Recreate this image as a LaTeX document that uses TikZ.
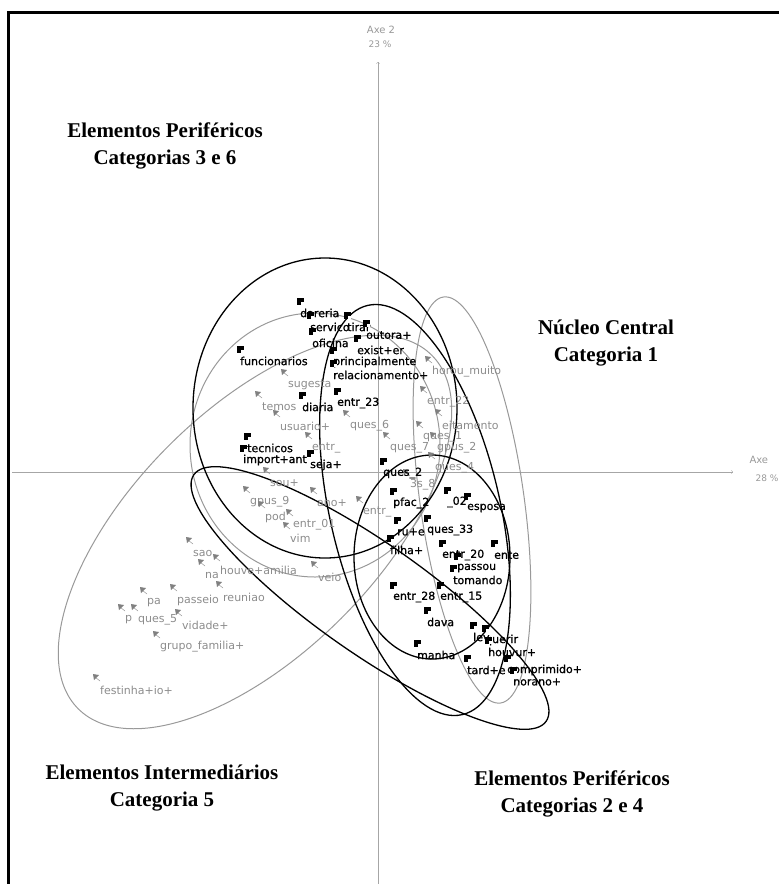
\documentclass[tikz,border=0pt]{standalone}
\usepackage{fontspec}
\setmainfont{Liberation Serif}
\newfontfamily\labfont{DejaVu Sans}
\newfontfamily\labbfont[FakeBold=1]{DejaVu Sans}
\usetikzlibrary{arrows}

\begin{document}
\begin{tikzpicture}[x=1pt,y=-1pt,
  blab/.style={anchor=west,inner sep=0,font=\labbfont\fontsize{11}{11}\selectfont,text=black},
  glab/.style={blab,font=\labfont\fontsize{11}{11}\selectfont,text=black!45},
  ttl/.style={align=center,inner sep=0,font=\bfseries\fontsize{21}{27}\selectfont}]
\useasboundingbox (0,0) rectangle (779,884);
\draw[line width=3] (8,884) -- (8,12) -- (779,12);
% axes
\draw[black!35, ->, >=to] (12,472)--(733,472);
\draw[black!35, ->, >=to] (378,884)--(378,62);
\node[black!40, font=\labfont\fontsize{10}{10}\selectfont] (ax2) at (381,30) {Axe 2};
\node[black!40, font=\labfont\fontsize{9}{9}\selectfont] (ax2p) at (380,44) {23 \%};
\node[black!40, font=\labfont\fontsize{10}{10}\selectfont, anchor=west] (ax1) at (746,460) {Axe};
\node[black!40, font=\labfont\fontsize{9}{9}\selectfont, anchor=west] (ax1p) at (752,478) {28 \%};
% ellipses
\draw[black!40, line width=1] [rotate around={45:(255,532)}] (255,532) ellipse [x radius=250, y radius=122];
\draw[black!40, line width=1] [rotate around={8:(472,500)}] (472,500) ellipse [x radius=52, y radius=205];
\draw[black!40, line width=1] (315,445) ellipse [x radius=125, y radius=132];
\draw[line width=1.3] (325,408) ellipse [x radius=132, y radius=150];
\draw[line width=1.3] [rotate around={13:(415,510)}] (415,510) ellipse [x radius=85, y radius=210];
\draw[line width=1.3] (432,557) ellipse [x radius=78, y radius=102];
\draw[line width=1.3] [rotate around={-35:(370,598)}] (370,598) ellipse [x radius=215, y radius=55];
% gray points
\foreach \x/\y/\t [count=\i] in {432/372/horou\_muito, 288/385/sugesta, 262/407/temos,
  427/402/entr\_22, 280/426/usuario+, 350/426/ques\_6, 442/425/eitamento, 423/437/ques\_1,
  312/448/entr\_, 390/448/ques\_7, 437/448/gpus\_2, 435/468/ques\_4, 410/485/3s\_8,
  270/483/sou+, 250/502/gpus\_9, 317/503/ano+, 363/512/entr\_, 265/517/pod,
  293/525/entr\_01, 290/538/vim, 193/553/sao, 220/570/houve+amilia, 205/575/na,
  318/577/veio, 223/597/reuniao, 177/600/passeio, 147/603/pa, 125/620/p,
  138/620/ques\_5, 182/625/vidade+, 160/647/grupo\_familia+, 100/690/festinha+io+} {
  \node[glab] (g\i) at (\x,\y) {\t};
  \fill[black!50] (\x-7,\y-16) -- ++(6,1) -- ++(-5,5) -- cycle;
  \draw[black!50] (\x-5,\y-13) -- ++(5,4);
}
% black points
\foreach \x/\y/\t [count=\i] in {300/313/dareria, 310/327/servico, 347/327/tirar,
  366/335/outora+, 312/343/oficina, 357/350/exist+er, 240/361/funcionarios,
  333/362/principalmente, 333/375/relacionamento+, 302/407/diaria, 337/403/entr\_23,
  247/448/tecnicos, 243/460/import+ant, 310/465/seja+, 383/473/ques\_2,
  393/503/pfac\_2, 447/502/\_02, 467/508/esposa, 427/530/ques\_33, 397/532/ru+e,
  390/550/filha+, 442/555/entr\_20, 494/555/ente, 457/568/passou, 453/580/tomando,
  393/597/entr\_28, 440/597/entr\_15, 427/622/dava, 473/637/lev, 485/640/querir,
  488/652/houvur+, 417/655/manha, 467/670/tard+e, 507/670/comprimido+, 513/682/norano+} {
  \node[blab] (b\i) at (\x,\y) {\t};
  \fill (\x-3,\y-15) rectangle ++(7,7);
  \fill[white] (\x+1,\y-11) rectangle ++(3,3);
}
% titles
\node[ttl] (perif1) at (165,146) {Elementos Periféricos\\Categorias 3 e 6};
\node[ttl] (nucleo) at (606,343) {Núcleo Central\\Categoria 1};
\node[ttl] (interm) at (162,788) {Elementos Intermediários\\Categoria 5};
\node[ttl] (perif2) at (572,794) {Elementos Periféricos\\Categorias 2 e 4};
\end{tikzpicture}
\end{document}
